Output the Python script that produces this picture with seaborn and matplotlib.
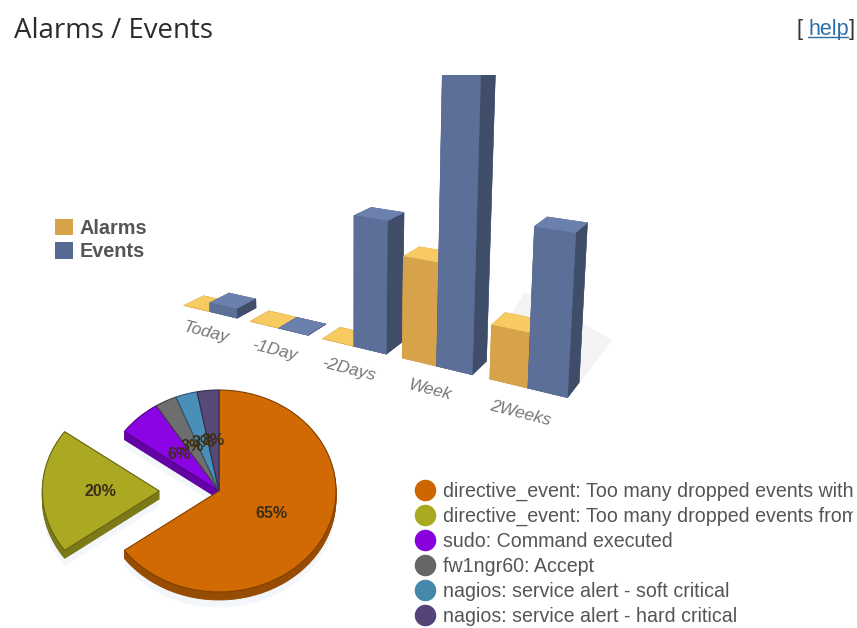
import colorsys

import numpy as np
import matplotlib
matplotlib.use("Agg")
import matplotlib.pyplot as plt
from matplotlib.colors import to_rgb
from matplotlib.lines import Line2D
from matplotlib.patches import Patch
from matplotlib.transforms import Bbox
from mpl_toolkits.mplot3d.art3d import Poly3DCollection
import seaborn as sns

# Bar chart data
periods = ["Today", "-1Day", "-2Days", "Week", "2Weeks"]
alarms = [0, 0, 0, 99, 51]
events = [10, 0, 130, 290, 146]

# Pie chart data
signatures = [
    "directive_event: Too many dropped events with",
    "directive_event: Too many dropped events from",
    "sudo: Command executed",
    "fw1ngr60: Accept",
    "nagios: service alert - soft critical",
    "nagios: service alert - hard critical",
]
shares = [65, 20, 6, 3, 3, 3]
pie_colors = ["#D26A04", "#ABA821", "#8A04E4", "#6E6E6E", "#4A8FB8", "#574A78"]
legend_colors = ["#CC6600", "#AAAA22", "#8800DD", "#666666", "#4488AA", "#554477"]

W, H = 857, 628
sns.set_theme(style="white")
plt.rcParams["font.family"] = ["Liberation Sans", "DejaVu Sans"]
fig = plt.figure(figsize=(W / 100, H / 100), dpi=100, facecolor="white")


def fig_rect(left, top, right, bottom):
    """Figure-fraction rectangle from pixel edges measured from the top-left."""
    return [left / W, 1 - bottom / H, (right - left) / W, (bottom - top) / H]


def darker(color, factor=0.72):
    """Same hue with its lightness scaled, for the sides of the pie."""
    lightness = colorsys.rgb_to_hls(*to_rgb(color))[1]
    return sns.set_hls_values(color, l=lightness * factor)


# ---- perspective bars ----
AX_SIZE = float(np.exp(6.433))
ax3d = fig.add_axes([51.31 / W, 168.84 / H, AX_SIZE / W, AX_SIZE / H], projection="3d",
                    computed_zorder=False)
ax3d.set_axis_off()
ax3d.patch.set_visible(False)

BAR_W = 0.4048
# face order used by bar3d: bottom, top, front, back, left, right
ALARM_FACES = ["#C9953F", "#F8CB62", "#D6A24A", "#D6A24A", "#C9953F", "#B8873A"]
EVENT_FACES = ["#46567A", "#6C80AD", "#5B6F98", "#5B6F98", "#46567A", "#3F4D69"]
TOP_CLIP = Bbox([[0, 0], [W, H - 75]])

# soft floor shadow behind the last group
floor = Poly3DCollection([[(4.82, 0.84, 0), (4.82, 4.21, 0), (3.45, 6.71, 0), (3.68, 2.48, 0)]],
                         facecolor="#F3F3F3", edgecolor="none")
ax3d.add_collection3d(floor)

for i, period in enumerate(periods):
    for offset, value, faces in ((0, alarms[i], ALARM_FACES), (BAR_W, events[i], EVENT_FACES)):
        bar = ax3d.bar3d(i + offset, 0, 0, BAR_W, 1, value, color=faces, edgecolor=faces,
                         linewidth=0.3, shade=False, zsort="average")
        bar.set_clip_on(True)
        bar.set_clip_path(None)
        bar.set_clip_box(TOP_CLIP)
    ax3d.text(i + BAR_W - 0.07, 0, -25, period, zdir=(1, 0, 0), ha="center", va="center",
              rotation_mode="anchor", style="italic", fontsize=12.5, color="#777777")

ax3d.set_xlim(0, 5)
ax3d.set_ylim(0, 1)
ax3d.set_zlim(0, 400)
ax3d.view_init(elev=11.4054, azim=-60.6776, roll=-0.2434)
ax3d.set_proj_type("persp", focal_length=float(np.exp(-1.2876)))
ax3d.set_box_aspect((2.8808, 0.2166, 2.6342))

fig.legend(
    handles=[Patch(facecolor="#D6A24A", edgecolor="none"), Patch(facecolor="#566A94", edgecolor="none")],
    labels=["Alarms", "Events"], loc="upper left", bbox_to_anchor=(55 / W, 1 - 219 / H),
    frameon=False, prop={"weight": "bold", "size": 14.3}, labelcolor="#555555",
    handlelength=0.9, handleheight=0.9, handletextpad=0.35, labelspacing=0.2, borderpad=0, borderaxespad=0,
)

# ---- exploded pie with a faked extrusion ----
CX, CY, RX, RY = 219, 491, 117, 101
ax_pie = fig.add_axes(fig_rect(CX - 1.8 * RX, CY - 1.3 * RY, CX + 1.8 * RX, CY + 1.35 * RY))
explode = [0, 0.51, 0, 0, 0, 0]
pie_kw = dict(explode=explode, startangle=90, counterclock=False, radius=1)

ax_pie.pie(shares, colors=["#F3F6FA"] * 6, center=(0, -15 / RY),
           wedgeprops={"edgecolor": "#F3F6FA", "linewidth": 0.5}, **pie_kw)
side_colors = [darker(c) for c in pie_colors]
for px_down in range(8, 0, -1):
    side_wedges, _ = ax_pie.pie(shares, colors=side_colors, center=(0, -px_down / RY), **pie_kw)
    for wedge, color in zip(side_wedges, side_colors):
        wedge.set_edgecolor(color)
        wedge.set_linewidth(0.6)
top_wedges, _, _ = ax_pie.pie(shares, colors=pie_colors, autopct="%d%%", pctdistance=0.5,
                              textprops={"fontsize": 11.5, "fontweight": "bold", "color": "#3B2E14"},
                              **pie_kw)
for wedge, color in zip(top_wedges, pie_colors):
    wedge.set_edgecolor(darker(color, 0.6))
    wedge.set_linewidth(0.8)
ax_pie.set_aspect("auto")
ax_pie.set_xlim(-1.8, 1.8)
ax_pie.set_ylim(-1.35, 1.3)
ax_pie.patch.set_visible(False)

# ---- pie legend, cut at the panel edge ----
handles = [Line2D([], [], linestyle="none", marker="o", markersize=15.5, color=c, markeredgewidth=0)
           for c in legend_colors]
leg = fig.legend(handles, signatures, loc="upper left", bbox_to_anchor=(415 / W, 1 - 482 / H),
                 frameon=False, fontsize=14.1, labelcolor="#555555", handlelength=1.0,
                 handletextpad=0.43, labelspacing=0.3, borderpad=0, borderaxespad=0)
for label in leg.get_texts():
    label.set_clip_on(True)
    label.set_clip_box(Bbox([[0, 0], [853, H]]))

# ---- heading ----
fig.text(14 / W, 1 - 38 / H, "Alarms / Events", family="Open Sans", fontsize=19.9, color="#2B2B2B")
fig.text(797 / W, 1 - 35 / H, "[", fontsize=15.5, color="#333333")
fig.text(808 / W, 1 - 35 / H, "help", fontsize=15.5, color="#2C6FA8")
fig.text(849 / W, 1 - 35 / H, "]", fontsize=15.5, color="#333333")
fig.add_artist(Line2D([808 / W, 848 / W], [1 - 37 / H, 1 - 37 / H], color="#2C6FA8", lw=1))

fig.savefig("out.png", dpi=100, facecolor="white")
